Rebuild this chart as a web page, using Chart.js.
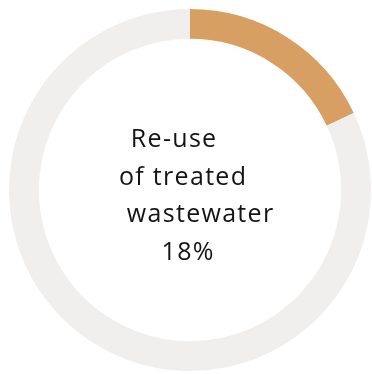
<!DOCTYPE html>
<html>
<head>
<meta charset="utf-8">
<script src="https://cdn.jsdelivr.net/npm/chart.js@4"></script>
<style>
  html, body { margin: 0; padding: 0; background: #ffffff; }
  #wrap { width: 372px; height: 374px; position: relative; }
</style>
</head>
<body>
<div id="wrap"><canvas id="reuseChart"></canvas></div>
<script>
// Share of treated wastewater that is re-used
const categories = ['Re-use of treated wastewater', 'Other'];
const shareValues = [18, 82];
const ringColors = ['#d7a062', '#f0efee'];

// Centre caption, one entry per line; dx shifts each line sideways a bit
const captionLines = ['Re-use', 'of treated', 'wastewater', shareValues[0] + '%'];
const captionShift = [-16.5, -7.5, 10, -2.5];

const centerText = {
    id: 'centerText',
    afterDraw(chart) {
        const ctx = chart.ctx;
        const area = chart.chartArea;
        const cx = (area.left + area.right) / 2;
        const cy = (area.top + area.bottom) / 2;
        const lineHeight = 37.8;
        const firstBaseline = cy - 43.3;
        const spacing = 1.3;
        ctx.save();
        ctx.fillStyle = '#141414';
        ctx.font = '400 25px "Open Sans", sans-serif';
        ctx.letterSpacing = spacing + 'px';
        ctx.textAlign = 'center';
        ctx.textBaseline = 'alphabetic';
        captionLines.forEach((line, i) => {
            ctx.fillText(line, cx + captionShift[i] + spacing / 2, firstBaseline + i * lineHeight);
        });
        ctx.restore();
    }
};

const ctx = document.getElementById('reuseChart').getContext('2d');

new Chart(ctx, {
    type: 'doughnut',
    data: {
        labels: categories,
        datasets: [{
            data: shareValues,
            backgroundColor: ringColors,
            borderWidth: 0,
        }],
    },
    options: {
        responsive: true,
        maintainAspectRatio: false,
        animation: false,
        cutout: '83.5%',
        layout: {
            padding: { left: 9, right: 1, top: 9, bottom: 3 },
        },
        plugins: {
            legend: { display: false },
            tooltip: { enabled: false },
        },
    },
    plugins: [centerText],
});
</script>
</body>
</html>
